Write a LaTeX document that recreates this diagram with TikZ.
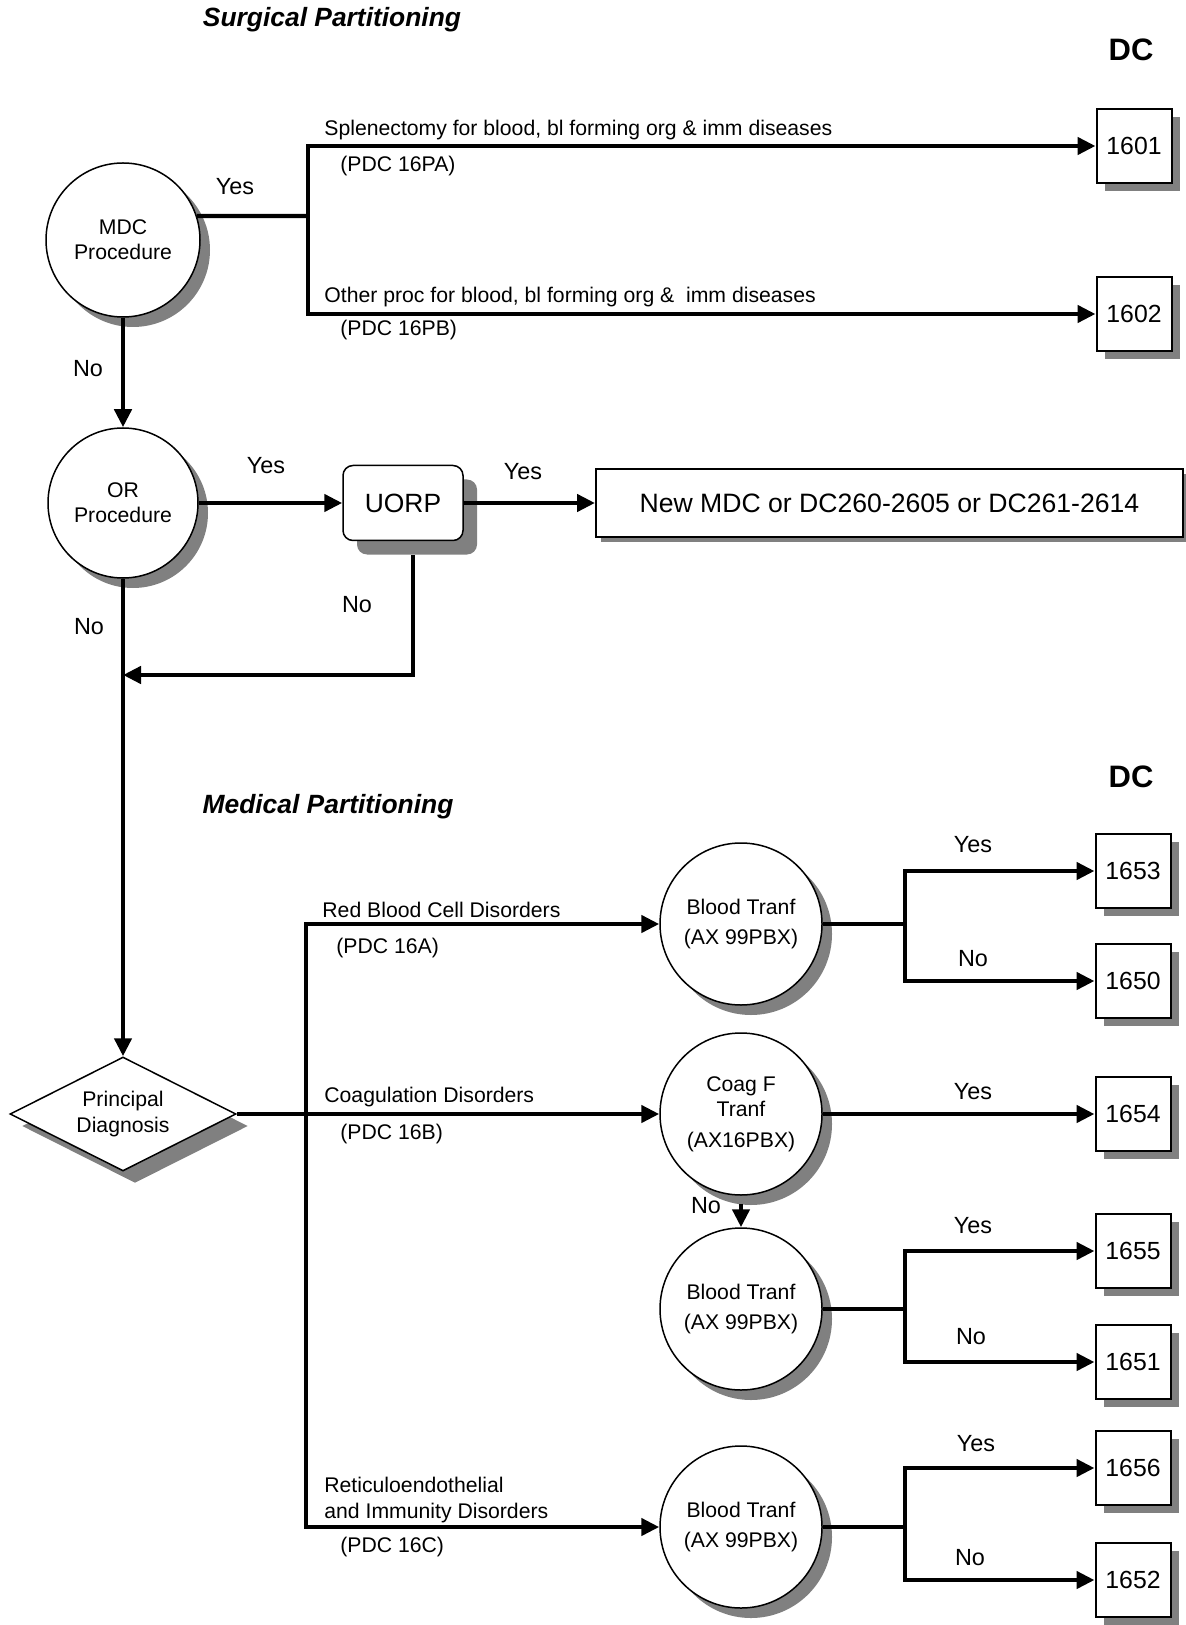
\documentclass[tikz,border=0pt]{standalone}
\usepackage{fontspec}
\setmainfont{Liberation Sans}
\usepackage{tikz}
\usetikzlibrary{arrows.meta, positioning, shapes.geometric, shadows}

\definecolor{shadowgray}{RGB}{128,128,128}

\begin{document}
\begin{tikzpicture}[
    x=0.5pt, y=-0.5pt,
    every node/.style={font=\fontsize{10.6}{12.6}\selectfont, inner sep=0pt},
    decision/.style={draw, circle, fill=white, line width=0.75pt, minimum size=77pt, align=center,
        drop shadow={shadow xshift=5pt, shadow yshift=-5pt, fill=shadowgray, opacity=1}},
    diagnosis/.style={draw, diamond, aspect=2, fill=white, line width=0.75pt, minimum width=113pt, minimum height=57pt, align=center,
        drop shadow={shadow xshift=6pt, shadow yshift=-6pt, fill=shadowgray, opacity=1}},
    dcbox/.style={draw, rectangle, fill=white, line width=1pt, minimum width=37.5pt, minimum height=37pt,
        font=\fontsize{12.4}{14}\selectfont, drop shadow={shadow xshift=4pt, shadow yshift=-4pt, fill=shadowgray, opacity=1}},
    roundbox/.style={draw, rectangle, rounded corners=5pt, fill=white, line width=0.75pt, minimum width=60pt, minimum height=37.5pt,
        font=\fontsize{13.2}{15}\selectfont, drop shadow={shadow xshift=7pt, shadow yshift=-7pt, fill=shadowgray, opacity=1}},
    widebox/.style={draw, rectangle, fill=white, line width=1pt, minimum width=293.5pt, minimum height=34pt,
        font=\fontsize{13.3}{15}\selectfont, drop shadow={shadow xshift=2.5pt, shadow yshift=-2.5pt, fill=shadowgray, opacity=1}},
    yesno/.style={font=\fontsize{11.7}{14}\selectfont},
    branch/.style={anchor=west},
    title/.style={font=\fontsize{13.2}{16}\selectfont\bfseries\itshape},
    dchead/.style={font=\fontsize{15.5}{18}\selectfont\bfseries},
    link/.style={line width=2.2pt},
    flow/.style={line width=2.2pt, -{Triangle[length=9pt, width=8.5pt]}},
    twoway/.style={line width=2.2pt, {Triangle[length=9pt, width=8.5pt]}-{Triangle[length=9pt, width=8.5pt]}}
]
    \useasboundingbox (0,0) rectangle (1186,1625);

    % Surgical partitioning
    \node[title] (surgtitle) at (332,20) {Surgical Partitioning};
    \node[dchead] (dcsurg) at (1131,50) {DC};

    \node[decision] (mdc) at (123,240) {MDC\\Procedure};
    \node[dcbox] (b1601) at (1134,146) {1601};
    \node[dcbox] (b1602) at (1134,314) {1602};
    \node[decision, minimum size=75pt] (orproc) at (123,503) {OR\\Procedure};
    \node[roundbox] (uorp) at (403,503) {UORP};
    \node[widebox] (newmdc) at (889.5,503) {New MDC or DC260-2605 or DC261-2614};

    \coordinate (sj) at (308,216);
    \coordinate (merge) at (123,675);

    \draw[link] (mdc.18) -- (sj);
    \draw[twoway] (b1601) -| (sj) |- (b1602);
    \draw[flow] (mdc) -- (orproc);
    \draw[flow] (orproc) -- (uorp);
    \draw[flow] (uorp) -- (newmdc);
    \draw[flow] ([xshift=5pt, yshift=-7pt]uorp.south) |- (merge);

    \node[yesno] (yes1) at (235,187) {Yes};
    \node[branch] (splen) at (324,130) {Splenectomy for blood, bl forming org \& imm diseases};
    \node[branch] (pdc16pa) at (340,166) {(PDC 16PA)};
    \node[branch] (otherproc) at (324,297) {Other proc for blood, bl forming org \&\ \ imm diseases};
    \node[branch] (pdc16pb) at (340,330) {(PDC 16PB)};
    \node[yesno] (no1) at (88,369) {No};
    \node[yesno] (yes2) at (266,466) {Yes};
    \node[yesno] (yes3) at (523,472) {Yes};
    \node[yesno] (no2) at (357,605) {No};
    \node[yesno] (no3) at (89,627) {No};

    % Medical partitioning
    \node[title] (medtitle) at (328,807) {Medical Partitioning};
    \node[dchead] (dcmed) at (1131,777) {DC};

    \node[diagnosis] (pdx) at (123,1114) {Principal\\Diagnosis};
    \node[decision, minimum size=81pt] (bt1) at (741,924) {Blood Tranf\\[2pt](AX 99PBX)};
    \node[decision, minimum size=81pt] (coag) at (741,1114) {Coag F\\Tranf\\[3pt](AX16PBX)};
    \node[decision, minimum size=81pt] (bt2) at (741,1309) {Blood Tranf\\[2pt](AX 99PBX)};
    \node[decision, minimum size=81pt] (bt3) at (741,1527) {Blood Tranf\\[2pt](AX 99PBX)};

    \node[dcbox] (b1653) at (1133,871) {1653};
    \node[dcbox] (b1650) at (1133,981) {1650};
    \node[dcbox] (b1654) at (1133,1114) {1654};
    \node[dcbox] (b1655) at (1133,1251) {1655};
    \node[dcbox] (b1651) at (1133,1362) {1651};
    \node[dcbox] (b1656) at (1133,1468) {1656};
    \node[dcbox] (b1652) at (1133,1580) {1652};

    \draw[flow] (orproc) -- (pdx);

    \coordinate (trunkend) at (306,1527);
    \coordinate (j1) at (905,924);
    \coordinate (j2) at (905,1309);
    \coordinate (j3) at (905,1527);

    \draw[twoway] (bt1) -| (trunkend) -- (bt3);
    \draw[flow] (pdx.east) -- (coag);
    \draw[link] (bt1) -- (j1);
    \draw[twoway] (b1653) -| (j1) |- (b1650);
    \draw[flow] (coag) -- (b1654);
    \draw[flow] ([yshift=-4pt]coag.south) -- (bt2);
    \draw[link] (bt2) -- (j2);
    \draw[twoway] (b1655) -| (j2) |- (b1651);
    \draw[link] (bt3) -- (j3);
    \draw[twoway] (b1656) -| (j3) |- (b1652);

    \node[branch] (rbc) at (322,910) {Red Blood Cell Disorders};
    \node[branch] (pdc16a) at (336,948) {(PDC 16A)};
    \node[branch] (coagdis) at (324,1097) {Coagulation Disorders};
    \node[branch] (pdc16b) at (340,1134) {(PDC 16B)};
    \node[branch, align=left] (reti) at (324,1500) {Reticuloendothelial\\and Immunity Disorders};
    \node[branch] (pdc16c) at (340,1547) {(PDC 16C)};

    \node[yesno] (yes4) at (973,845) {Yes};
    \node[yesno] (no4) at (973,959) {No};
    \node[yesno] (yes5) at (973,1092) {Yes};
    \node[yesno] (no5) at (706,1206) {No};
    \node[yesno] (yes6) at (973,1226) {Yes};
    \node[yesno] (no6) at (971,1337) {No};
    \node[yesno] (yes7) at (976,1444) {Yes};
    \node[yesno] (no7) at (970,1558) {No};

\end{tikzpicture}
\end{document}
